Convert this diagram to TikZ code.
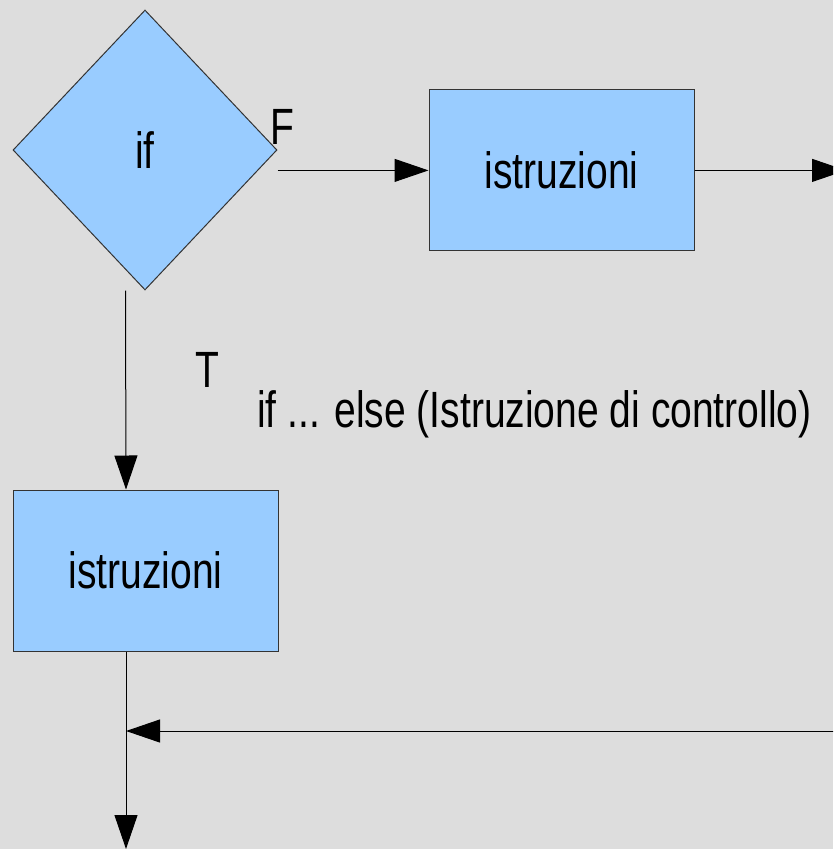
\documentclass[tikz,border=0pt]{standalone}
\usepackage{fontspec}
\setmainfont[FakeStretch=0.765]{Liberation Sans}
\usetikzlibrary{shapes.geometric,arrows.meta}
\definecolor{bg}{HTML}{DDDDDD}
\definecolor{boxblue}{HTML}{99CCFF}
\begin{document}
\begin{tikzpicture}[x=1pt,y=-1pt,
  conn/.style={draw=black, line width=1pt},
  tip/.style={-{Triangle[length=34pt,width=23pt]}},
  bigfont/.style={font=\fontsize{51}{60}\selectfont},
  box/.style={draw=black!80, line width=1pt, fill=boxblue, minimum width=265pt, minimum height=161pt, inner sep=0pt, bigfont},
  dec/.style={diamond, draw=black!80, line width=1pt, fill=boxblue, minimum width=264pt, minimum height=280pt, inner sep=0pt, bigfont},
  lbl/.style={inner sep=0pt, anchor=base west, bigfont}]
\fill[bg] (0,0) rectangle (833,849);
\useasboundingbox (0,0) rectangle (833,849);
\clip (0,0) rectangle (833,849);

\node[dec] (dia) at (145,150) {if};
\node[box] (b1) at (561.5,170.4) {istruzioni};
\node[box] (b2) at (145.5,570.5) {istruzioni};

\node[lbl] (lf) at (270,144) {F};
\node[lbl] (lt) at (195,387) {T};
\node[lbl] (cap) at (257,427) {if ... else (Istruzione di controllo)};

\coordinate (outR) at (846,170.4);
\coordinate (outB) at (126,849);
\coordinate (join) at (126,731);
\coordinate (inR) at (845,731);

\draw[conn,tip] (dia.east |- b1.west) -- (b1.west);
\draw[conn,tip] (b1.east) -- (outR);
\draw[conn,tip] ([xshift=-19.5pt]dia.south) -- ([xshift=-19.5pt]b2.north);
\draw[conn,tip] ([xshift=-19.5pt]b2.south) -- (outB);
\draw[conn,tip] (inR) -- (join);
\end{tikzpicture}
\end{document}
